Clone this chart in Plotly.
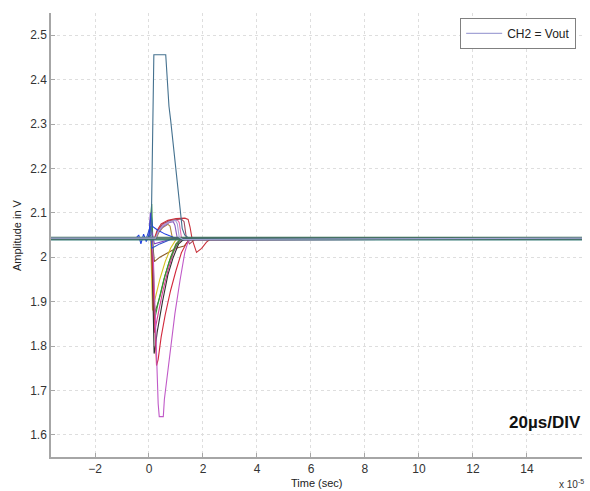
import plotly.graph_objects as go

# Time axis in units of 1e-5 s (oscilloscope capture, 20 us/div), amplitude in volts.

# Overshoot that saturates at the top of the capture
t_spike = [-3.7, -0.05, 0.08, 0.12, 0.16, 0.18, 0.62, 0.65, 0.69, 0.74, 0.80, 0.87, 0.95, 1.03, 1.10, 1.16, 1.23, 1.32, 1.45, 16.1]
v_spike = [2.043, 2.043, 2.05, 2.20, 2.42, 2.456, 2.456, 2.43, 2.38, 2.34, 2.31, 2.27, 2.22, 2.17, 2.125, 2.09, 2.065, 2.05, 2.044, 2.043]

# Deepest undershoot
t_dip_deep = [-3.7, 0.10, 0.16, 0.22, 0.28, 0.34, 0.38, 0.53, 0.57, 0.65, 0.80, 0.96, 1.15, 1.33, 1.45, 1.60, 16.1]
v_dip_deep = [2.041, 2.041, 2.00, 1.88, 1.76, 1.67, 1.641, 1.641, 1.68, 1.722, 1.798, 1.873, 1.948, 2.012, 2.035, 2.042, 2.041]

t_dip_red = [-3.7, 0.10, 0.15, 0.22, 0.28, 0.34, 0.45, 0.60, 0.80, 1.00, 1.20, 1.40, 1.60, 16.1]
v_dip_red = [2.042, 2.042, 1.95, 1.82, 1.756, 1.77, 1.82, 1.87, 1.925, 1.97, 2.01, 2.033, 2.042, 2.042]

t_dip_black = [-3.7, 0.10, 0.15, 0.19, 0.24, 0.30, 0.50, 0.70, 0.90, 1.10, 1.30, 16.1]
v_dip_black = [2.042, 2.042, 1.90, 1.783, 1.80, 1.83, 1.90, 1.96, 2.00, 2.03, 2.041, 2.042]

t_dip_green = [-3.7, 0.00, 0.06, 0.10, 0.13, 0.17, 0.21, 0.35, 0.55, 0.75, 0.95, 1.15, 16.1]
v_dip_green = [2.043, 2.043, 2.09, 2.12, 2.06, 1.92, 1.86, 1.90, 1.95, 1.99, 2.02, 2.04, 2.043]

t_dip_yellow = [-3.7, 0.06, 0.10, 0.13, 0.20, 0.40, 0.60, 0.80, 1.00, 16.1]
v_dip_yellow = [2.042, 2.042, 1.95, 1.88, 1.90, 1.95, 1.99, 2.02, 2.04, 2.042]

t_dip_magenta = [-3.7, 0.10, 0.15, 0.20, 0.30, 0.50, 0.70, 0.90, 1.10, 1.30, 16.1]
v_dip_magenta = [2.041, 2.041, 1.90, 1.83, 1.86, 1.92, 1.97, 2.01, 2.035, 2.041, 2.041]

t_dip_olive = [-3.7, 0.12, 0.17, 0.22, 0.40, 0.60, 0.80, 1.00, 1.20, 16.1]
v_dip_olive = [2.044, 2.044, 1.93, 1.875, 1.91, 1.96, 2.00, 2.03, 2.043, 2.044]

t_dip_brown = [-3.7, 0.12, 0.20, 0.40, 0.70, 1.00, 1.30, 1.50, 16.1]
v_dip_brown = [2.042, 2.042, 1.99, 2.00, 2.01, 2.02, 2.025, 2.04, 2.042]

# Positive recovery bumps that collapse at different times
t_bump_red = [-3.7, 0.20, 0.30, 0.45, 0.70, 1.00, 1.33, 1.45, 1.52, 1.60, 1.76, 1.95, 2.13, 2.30, 16.1]
v_bump_red = [2.042, 2.042, 2.06, 2.075, 2.083, 2.087, 2.088, 2.085, 2.068, 2.04, 2.011, 2.02, 2.034, 2.042, 2.042]

t_bump_wine = [-3.7, 0.22, 0.32, 0.50, 0.80, 1.20, 1.30, 1.38, 1.50, 1.70, 16.1]
v_bump_wine = [2.041, 2.041, 2.06, 2.075, 2.083, 2.086, 2.08, 2.045, 2.030, 2.040, 2.041]

t_bump_pink = [-3.7, 0.22, 0.32, 0.50, 0.80, 1.05, 1.12, 1.20, 1.35, 16.1]
v_bump_pink = [2.042, 2.042, 2.058, 2.072, 2.081, 2.084, 2.078, 2.045, 2.038, 2.042]

t_bump_lav = [-3.7, 0.24, 0.34, 0.50, 0.75, 0.98, 1.05, 1.12, 1.25, 16.1]
v_bump_lav = [2.043, 2.043, 2.058, 2.070, 2.080, 2.083, 2.075, 2.045, 2.040, 2.043]

t_bump_purple = [-3.7, 0.24, 0.34, 0.50, 0.75, 0.90, 0.96, 1.04, 1.20, 16.1]
v_bump_purple = [2.042, 2.042, 2.056, 2.068, 2.078, 2.080, 2.072, 2.045, 2.038, 2.042]

t_bump_tan = [-3.7, 0.26, 0.36, 0.50, 0.70, 0.78, 0.86, 1.00, 16.1]
v_bump_tan = [2.041, 2.041, 2.055, 2.066, 2.074, 2.070, 2.045, 2.040, 2.041]

# Small ringing around the trigger point
t_ring_blue = [-3.7, -0.50, -0.38, -0.30, -0.20, -0.10, 0.00, 0.08, 0.12, 0.30, 0.60, 0.90, 1.20, 16.1]
v_ring_blue = [2.042, 2.042, 2.050, 2.030, 2.052, 2.035, 2.050, 2.100, 2.070, 2.062, 2.052, 2.045, 2.042, 2.042]

t_ring_navy = [-3.7, -0.10, 0.05, 0.10, 0.40, 0.80, 1.10, 16.1]
v_ring_navy = [2.042, 2.042, 2.070, 2.020, 2.030, 2.040, 2.042, 2.042]

t_ring_violet = [-3.7, 0.00, 0.05, 0.10, 0.20, 0.50, 0.90, 16.1]
v_ring_violet = [2.042, 2.042, 2.100, 2.060, 2.030, 2.035, 2.042, 2.042]

# Steady-state baseline band
t_base = [-3.7, 16.1]
v_base_1 = [2.0390, 2.0390]
v_base_2 = [2.0410, 2.0410]
v_base_3 = [2.0430, 2.0430]
v_base_4 = [2.0450, 2.0450]

x_tick_vals = [-2, 0, 2, 4, 6, 8, 10, 12, 14]
y_tick_vals = [1.6, 1.7, 1.8, 1.9, 2.0, 2.1, 2.2, 2.3, 2.4, 2.5]
y_tick_text = ["1.6", "1.7", "1.8", "1.9", "2", "2.1", "2.2", "2.3", "2.4", "2.5"]

traces = [
    (t_dip_brown, v_dip_brown, "#8a5a2a"),
    (t_bump_tan, v_bump_tan, "#b08a40"),
    (t_bump_purple, v_bump_purple, "#8a5cc0"),
    (t_bump_pink, v_bump_pink, "#e070b0"),
    (t_bump_wine, v_bump_wine, "#a04a60"),
    (t_bump_red, v_bump_red, "#c8323c"),
    (t_dip_olive, v_dip_olive, "#566b26"),
    (t_dip_yellow, v_dip_yellow, "#d4c21e"),
    (t_dip_magenta, v_dip_magenta, "#d83c96"),
    (t_dip_green, v_dip_green, "#2e9a36"),
    (t_dip_black, v_dip_black, "#303030"),
    (t_dip_red, v_dip_red, "#d2283c"),
    (t_dip_deep, v_dip_deep, "#c05ac8"),
    (t_ring_violet, v_ring_violet, "#8040c0"),
    (t_ring_navy, v_ring_navy, "#3050c8"),
    (t_ring_blue, v_ring_blue, "#2040e0"),
    (t_spike, v_spike, "#44718f"),
    (t_base, v_base_1, "#3a7f7a"),
    (t_base, v_base_4, "#3a6f5a"),
    (t_base, v_base_2, "#2d6e4e"),
    (t_base, v_base_3, "#4a7060"),
]

fig = go.Figure()
for t, v, c in traces:
    fig.add_trace(go.Scatter(x=t, y=v, mode="lines", line=dict(color=c, width=1.1),
                             showlegend=False, hoverinfo="skip"))

# Legend entry for the channel
fig.add_trace(go.Scatter(x=t_bump_lav, y=v_bump_lav, mode="lines",
                         line=dict(color="#a4a4d6", width=1.1), name="CH2 = Vout",
                         showlegend=True))

axis_style = dict(showline=True, linecolor="#a6a6a6", linewidth=1.5, ticks="inside",
                  ticklen=4, tickcolor="#a6a6a6", showgrid=True, gridcolor="#dedede",
                  griddash="dot", gridwidth=1, zeroline=False, mirror=False,
                  tickfont=dict(size=12, color="#333333"))

fig.update_layout(
    width=590, height=491,
    margin=dict(l=51, r=8, t=13, b=34),
    plot_bgcolor="white", paper_bgcolor="white",
    font=dict(family="Liberation Sans, Arial, sans-serif", size=12, color="#333333"),
    xaxis=dict(range=[-3.63, 16.04], tickvals=x_tick_vals, **axis_style),
    yaxis=dict(range=[1.55, 2.55], tickvals=y_tick_vals, ticktext=y_tick_text, **axis_style),
    legend=dict(x=0.989, y=0.989, xanchor="right", yanchor="top", bgcolor="white",
                bordercolor="#808080", borderwidth=1, font=dict(size=12, color="#222222"),
                tracegroupgap=0, itemwidth=36),
    annotations=[
        dict(text="Amplitude in V", xref="paper", yref="paper", x=-0.064, y=0.5,
             xanchor="center", yanchor="middle",
             textangle=-90, showarrow=False, font=dict(size=11, color="#222222")),
        dict(text="Time (sec)", xref="paper", yref="paper", x=0.5, y=-0.0586,
             xanchor="center", yanchor="middle",
             showarrow=False, font=dict(size=11, color="#222222")),
        dict(text="x 10<sup>-5</sup>", xref="paper", yref="paper", x=1.0075, y=-0.061,
             xanchor="right", yanchor="middle", showarrow=False,
             font=dict(size=10, color="#333333")),
        dict(text="<b>20µs/DIV</b>", xref="paper", yref="paper", x=1.002, y=0.0766,
             xanchor="right", yanchor="middle", showarrow=False,
             font=dict(size=17, color="#111111")),
    ],
)

fig.write_html("out.html")
